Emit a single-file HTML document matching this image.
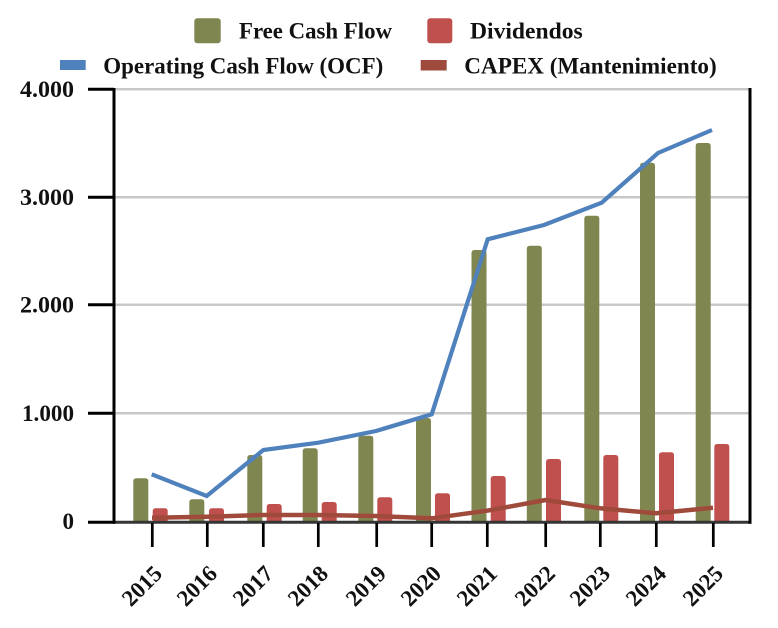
<!DOCTYPE html>
<html>
<head>
<meta charset="utf-8">
<style>
html,body{margin:0;padding:0;background:#fff;}
svg{display:block;}
text{font-family:"Liberation Serif",serif;font-weight:bold;fill:#111;}
</style>
</head>
<body>
<svg width="778" height="628" viewBox="0 0 778 628" xmlns="http://www.w3.org/2000/svg">
<rect x="0" y="0" width="778" height="628" fill="#fff"/>

<!-- Legend -->
<rect x="194.3" y="18.3" width="26.4" height="25" rx="3" fill="#80864f"/>
<text x="239" y="38.5" font-size="22.7" textLength="153" lengthAdjust="spacingAndGlyphs">Free Cash Flow</text>
<rect x="427.3" y="18.3" width="25" height="25" rx="3" fill="#c0504d"/>
<text x="470" y="38.5" font-size="22.7" textLength="112.7" lengthAdjust="spacingAndGlyphs">Dividendos</text>
<rect x="60" y="60" width="25.7" height="10" fill="#4f81bd"/>
<text x="103.3" y="73.5" font-size="22.9" textLength="280" lengthAdjust="spacingAndGlyphs">Operating Cash Flow (OCF)</text>
<rect x="420.7" y="60" width="26" height="10.5" fill="#9e4a3c"/>
<text x="464.3" y="73.5" font-size="22.9" textLength="252.4" lengthAdjust="spacingAndGlyphs">CAPEX (Mantenimiento)</text>

<!-- Gridlines -->
<g stroke="#c8c8c8" stroke-width="2.5">
<line x1="114" y1="89.3" x2="750" y2="89.3"/>
<line x1="114" y1="197.3" x2="750" y2="197.3"/>
<line x1="114" y1="304.8" x2="750" y2="304.8"/>
<line x1="114" y1="413.3" x2="750" y2="413.3"/>
</g>

<!-- Y labels -->
<g font-size="23" text-anchor="end">
<text x="74" y="97" textLength="54" lengthAdjust="spacingAndGlyphs">4.000</text>
<text x="74" y="204.8" textLength="54" lengthAdjust="spacingAndGlyphs">3.000</text>
<text x="74" y="312.3" textLength="54" lengthAdjust="spacingAndGlyphs">2.000</text>
<text x="74" y="421" textLength="52" lengthAdjust="spacingAndGlyphs">1.000</text>
<text x="74" y="529">0</text>
</g>

<!-- Green bars (Free Cash Flow) -->
<g fill="#80864f">
<path d="M133.3,522 V481.3 Q133.3,478.3 136.3,478.3 H145.3 Q148.3,478.3 148.3,481.3 V522 Z"/>
<path d="M189.3,522 V502.3 Q189.3,499.3 192.3,499.3 H201.3 Q204.3,499.3 204.3,502.3 V522 Z"/>
<path d="M247.3,522 V458 Q247.3,455 250.3,455 H259.3 Q262.3,455 262.3,458 V522 Z"/>
<path d="M302.7,522 V451.3 Q302.7,448.3 305.7,448.3 H314.7 Q317.7,448.3 317.7,451.3 V522 Z"/>
<path d="M358.3,522 V438.7 Q358.3,435.7 361.3,435.7 H370.3 Q373.3,435.7 373.3,438.7 V522 Z"/>
<path d="M416,522 V421 Q416,418 419,418 H428 Q431,418 431,421 V522 Z"/>
<path d="M471.5,522 V253 Q471.5,250 474.5,250 H483.5 Q486.5,250 486.5,253 V522 Z"/>
<path d="M526.8,522 V248.7 Q526.8,245.7 529.8,245.7 H538.8 Q541.8,245.7 541.8,248.7 V522 Z"/>
<path d="M584.3,522 V218.7 Q584.3,215.7 587.3,215.7 H596.3 Q599.3,215.7 599.3,218.7 V522 Z"/>
<path d="M640,522 V165.7 Q640,162.7 643,162.7 H652 Q655,162.7 655,165.7 V522 Z"/>
<path d="M695.7,522 V146 Q695.7,143 698.7,143 H707.7 Q710.7,143 710.7,146 V522 Z"/>
</g>

<!-- Red bars (Dividendos) -->
<g fill="#c0504d">
<path d="M152.7,522 V511.3 Q152.7,508.3 155.7,508.3 H164.7 Q167.7,508.3 167.7,511.3 V522 Z"/>
<path d="M209,522 V511.3 Q209,508.3 212,508.3 H221 Q224,508.3 224,511.3 V522 Z"/>
<path d="M266.7,522 V507 Q266.7,504 269.7,504 H278.7 Q281.7,504 281.7,507 V522 Z"/>
<path d="M321.7,522 V505 Q321.7,502 324.7,502 H333.7 Q336.7,502 336.7,505 V522 Z"/>
<path d="M377.3,522 V500.3 Q377.3,497.3 380.3,497.3 H389.3 Q392.3,497.3 392.3,500.3 V522 Z"/>
<path d="M435,522 V496.3 Q435,493.3 438,493.3 H447 Q450,493.3 450,496.3 V522 Z"/>
<path d="M490.7,522 V479 Q490.7,476 493.7,476 H502.7 Q505.7,476 505.7,479 V522 Z"/>
<path d="M546,522 V462 Q546,459 549,459 H558 Q561,459 561,462 V522 Z"/>
<path d="M603.3,522 V458 Q603.3,455 606.3,455 H615.3 Q618.3,455 618.3,458 V522 Z"/>
<path d="M659,522 V455.3 Q659,452.3 662,452.3 H671 Q674,452.3 674,455.3 V522 Z"/>
<path d="M714.3,522 V447 Q714.3,444 717.3,444 H726.3 Q729.3,444 729.3,447 V522 Z"/>
</g>

<!-- CAPEX line -->
<polyline fill="none" stroke="#a04a3c" stroke-width="4.5" stroke-linejoin="round" stroke-linecap="butt"
 points="152,517.7 207,516.7 263,515 318,515 376,516 431.7,518.3 487,510.7 545.7,500 600,508.3 656,513.3 713,507.7"/>

<!-- OCF line -->
<polyline fill="none" stroke="#4f81bd" stroke-width="4.2" stroke-linejoin="miter" stroke-linecap="butt"
 points="151.7,474.3 206.7,496 263.3,450 318.3,442.7 376,431 431.7,414.3 487.7,239.3 544,225 601.7,202.7 658,153 712,130"/>

<!-- Axes -->
<line x1="113" y1="522.3" x2="751.5" y2="522.3" stroke="#353535" stroke-width="3"/>
<line x1="114" y1="88" x2="114" y2="523.8" stroke="#000" stroke-width="3"/>
<line x1="750" y1="88" x2="750" y2="523.8" stroke="#000" stroke-width="3"/>
<g stroke="#000" stroke-width="3">
<line x1="88" y1="89.3" x2="114" y2="89.3"/>
<line x1="88" y1="197.3" x2="114" y2="197.3"/>
<line x1="88" y1="304.8" x2="114" y2="304.8"/>
<line x1="88" y1="413.3" x2="114" y2="413.3"/>
<line x1="88" y1="522.3" x2="114" y2="522.3"/>
</g>
<g stroke="#000" stroke-width="2.7">
<line x1="152.3" y1="523" x2="152.3" y2="547"/>
<line x1="207.3" y1="523" x2="207.3" y2="547"/>
<line x1="263.3" y1="523" x2="263.3" y2="547"/>
<line x1="318.3" y1="523" x2="318.3" y2="547"/>
<line x1="376.7" y1="523" x2="376.7" y2="547"/>
<line x1="431.7" y1="523" x2="431.7" y2="547"/>
<line x1="487.3" y1="523" x2="487.3" y2="547"/>
<line x1="545.7" y1="523" x2="545.7" y2="547"/>
<line x1="600.3" y1="523" x2="600.3" y2="547"/>
<line x1="656.3" y1="523" x2="656.3" y2="547"/>
<line x1="713.3" y1="523" x2="713.3" y2="547"/>
</g>

<!-- X labels -->
<g font-size="23" text-anchor="end">
<text transform="translate(163.5,575) rotate(-45)">2015</text>
<text transform="translate(218.5,575) rotate(-45)">2016</text>
<text transform="translate(274.5,575) rotate(-45)">2017</text>
<text transform="translate(329.5,575) rotate(-45)">2018</text>
<text transform="translate(387.5,575) rotate(-45)">2019</text>
<text transform="translate(442.5,575) rotate(-45)">2020</text>
<text transform="translate(498.5,575) rotate(-45)">2021</text>
<text transform="translate(556.5,575) rotate(-45)">2022</text>
<text transform="translate(611.5,575) rotate(-45)">2023</text>
<text transform="translate(667.5,575) rotate(-45)">2024</text>
<text transform="translate(724.5,575) rotate(-45)">2025</text>
</g>
</svg>
</body>
</html>
